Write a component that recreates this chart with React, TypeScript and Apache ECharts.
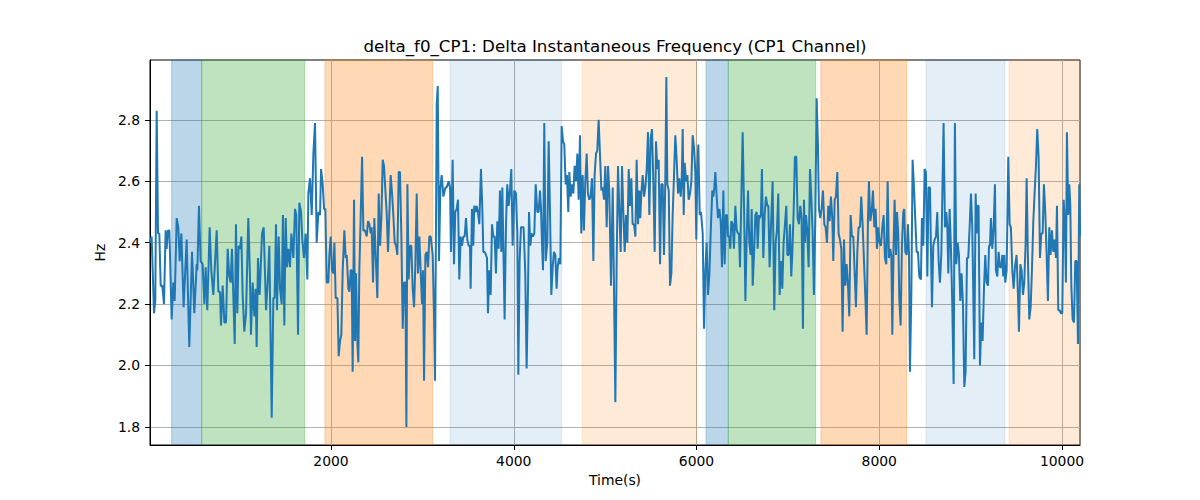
import { useEffect, useRef } from "react"
import * as echarts from "echarts"

// axis extents and tick labels
const timeRange = [19, 10197]
const hzRange = [1.741, 2.995]
const xTicks = [2000, 4000, 6000, 8000, 10000]
const yTicks = [1.8, 2.0, 2.2, 2.4, 2.6, 2.8]

// shaded phases (seconds)
const regionStarts = [256, 585, 1934, 3302, 4750, 6104, 6348, 7362, 8512, 9420]
const regionEnds = [585, 1713, 3113, 4525, 6002, 6348, 7304, 8300, 9376, 10197]
const regionKinds = ["A", "B", "C", "D", "E", "A", "B", "C", "D", "E"]

// [time(s), delta f0 (Hz)]
const samples: [number, number][] = [
  [19, 2.40], [37, 2.42], [63, 2.17], [77, 2.21], [92, 2.83], [107, 2.43], [121, 2.43], [136, 2.26], [154, 2.26], [172, 2.20],
  [190, 2.44], [201, 2.38], [216, 2.44], [231, 2.44], [256, 2.15], [274, 2.27], [289, 2.21], [311, 2.48], [329, 2.45], [344, 2.34],
  [362, 2.43], [387, 2.19], [420, 2.41], [449, 2.06], [479, 2.37], [504, 2.17], [530, 2.33], [537, 2.31], [555, 2.52], [573, 2.34],
  [595, 2.33], [614, 2.20], [628, 2.32], [646, 2.18], [672, 2.45], [690, 2.31], [712, 2.23], [749, 2.44], [767, 2.24], [785, 2.24],
  [796, 2.13], [814, 2.26], [833, 2.14], [851, 2.14], [869, 2.38], [887, 2.29], [902, 2.27], [916, 2.38], [946, 2.07], [960, 2.46],
  [975, 2.17], [989, 2.39], [1004, 2.38], [1019, 2.42], [1033, 2.23], [1051, 2.11], [1070, 2.17], [1095, 2.48], [1113, 2.29], [1124, 2.10],
  [1143, 2.27], [1161, 2.16], [1175, 2.25], [1186, 2.06], [1201, 2.35], [1219, 2.23], [1245, 2.43], [1263, 2.45], [1289, 2.18], [1307, 2.27],
  [1325, 2.39], [1351, 1.83], [1369, 2.22], [1383, 2.22], [1398, 2.46], [1409, 2.18], [1427, 2.42], [1442, 2.25], [1460, 2.20], [1474, 2.49],
  [1489, 2.13], [1504, 2.48], [1518, 2.32], [1533, 2.38], [1551, 2.32], [1566, 2.43], [1588, 2.35], [1606, 2.51], [1620, 2.49], [1639, 2.10],
  [1653, 2.53], [1672, 2.50], [1686, 2.41], [1704, 2.35], [1722, 2.43], [1741, 2.28], [1752, 2.56], [1770, 2.61],
  [1789, 2.49], [1807, 2.69], [1825, 2.79], [1843, 2.40], [1862, 2.50], [1880, 2.49], [1891, 2.64], [1909, 2.59], [1924, 2.51], [1938, 2.51],
  [1953, 2.27], [1971, 2.27], [1982, 2.36], [1997, 2.42], [2011, 2.31], [2026, 2.30], [2037, 2.40], [2051, 2.22], [2070, 2.22], [2084, 2.03],
  [2099, 2.08], [2113, 2.10], [2128, 2.31], [2146, 2.44], [2161, 2.35], [2172, 2.36], [2190, 2.25], [2201, 2.24], [2215, 2.31], [2226, 2.31],
  [2237, 1.98], [2252, 2.54], [2263, 2.08], [2274, 2.30], [2288, 2.08], [2299, 2.01], [2310, 2.31], [2325, 2.49], [2340, 2.68], [2354, 2.44],
  [2372, 2.44], [2391, 2.42], [2405, 2.47], [2420, 2.46], [2434, 2.43], [2445, 2.45], [2460, 2.27], [2474, 2.48], [2489, 2.36], [2507, 2.22],
  [2522, 2.56], [2537, 2.39], [2551, 2.48], [2566, 2.67], [2580, 2.65], [2595, 2.57], [2609, 2.50], [2624, 2.37], [2639, 2.50], [2653, 2.62],
  [2668, 2.56], [2682, 2.49], [2697, 2.40], [2712, 2.39], [2726, 2.36], [2741, 2.63], [2755, 2.63], [2770, 2.42], [2785, 2.12], [2799, 2.27],
  [2814, 2.27], [2825, 1.80], [2836, 2.59], [2850, 2.28], [2865, 2.39], [2879, 2.39], [2894, 2.25], [2909, 2.19], [2923, 2.33], [2938, 2.56],
  [2952, 2.30], [2967, 2.42], [2982, 2.30], [2996, 2.20], [3007, 2.31], [3018, 1.95], [3033, 2.36], [3047, 2.37], [3062, 2.32], [3076, 2.42],
  [3091, 2.42], [3113, 2.36], [3127, 2.17], [3138, 1.95], [3157, 2.85], [3168, 2.91], [3182, 2.34], [3197, 2.58], [3211, 2.62], [3230, 2.55],
  [3252, 2.58], [3266, 2.58], [3288, 2.60], [3303, 2.58],
  [3313, 2.37], [3331, 2.67], [3346, 2.33], [3360, 2.50], [3375, 2.51], [3390, 2.54], [3404, 2.28], [3419, 2.42], [3433, 2.39], [3448, 2.42],
  [3463, 2.42], [3477, 2.48], [3492, 2.41], [3506, 2.39], [3521, 2.39], [3528, 2.25], [3543, 2.51], [3557, 2.39], [3568, 2.52], [3583, 2.50],
  [3594, 2.52], [3608, 2.50], [3623, 2.46], [3641, 2.64], [3656, 2.51], [3667, 2.37], [3681, 2.37], [3696, 2.36], [3707, 2.35], [3718, 2.17],
  [3732, 2.31], [3747, 2.23], [3762, 2.46], [3776, 2.42], [3791, 2.42], [3805, 2.30], [3820, 2.47], [3835, 2.38], [3849, 2.57], [3864, 2.37],
  [3875, 2.58], [3886, 2.39], [3900, 2.15], [3915, 2.46], [3929, 2.59], [3944, 2.52], [3959, 2.57], [3973, 2.64], [3988, 2.39], [4006, 2.57],
  [4024, 2.56], [4039, 2.43], [4050, 1.97], [4064, 2.34], [4079, 2.45], [4094, 2.45], [4108, 2.45], [4126, 2.30], [4141, 1.99], [4156, 2.25],
  [4167, 2.50], [4181, 2.39], [4196, 2.43], [4210, 2.42], [4225, 2.43], [4240, 2.59], [4258, 2.50], [4272, 2.50], [4287, 2.57], [4298, 2.51],
  [4309, 2.40], [4320, 2.31], [4334, 2.79], [4349, 2.34], [4367, 2.40], [4382, 2.73], [4396, 2.51], [4411, 2.23], [4426, 2.32], [4440, 2.37],
  [4455, 2.36], [4469, 2.25], [4480, 2.32], [4495, 2.35], [4510, 2.33], [4524, 2.78], [4539, 2.73], [4553, 2.72], [4568, 2.59], [4582, 2.62],
  [4597, 2.50], [4608, 2.63], [4623, 2.55], [4637, 2.59], [4652, 2.56], [4666, 2.65], [4681, 2.60], [4696, 2.69], [4710, 2.54], [4725, 2.75],
  [4739, 2.43], [4754, 2.62], [4768, 2.44], [4783, 2.60], [4798, 2.69], [4812, 2.56], [4827, 2.54], [4841, 2.55], [4856, 2.61], [4871, 2.34],
  [4885, 2.62], [4900, 2.69], [4914, 2.70], [4929, 2.80],
  [4959, 2.57], [4973, 2.58], [4988, 2.54], [5002, 2.65], [5017, 2.45], [5032, 2.65], [5046, 2.56], [5064, 2.26], [5083, 2.58], [5097, 2.25],
  [5112, 1.88], [5126, 2.34], [5141, 2.65], [5156, 2.50], [5170, 2.37], [5185, 2.65], [5199, 2.50], [5214, 2.37], [5229, 2.49], [5243, 2.40],
  [5258, 2.64], [5272, 2.52], [5287, 2.61], [5301, 2.46], [5316, 2.46], [5331, 2.42], [5345, 2.67], [5360, 2.46], [5374, 2.57], [5385, 2.48],
  [5396, 2.56], [5411, 2.62], [5426, 2.55], [5440, 2.58], [5455, 2.64], [5469, 2.76], [5484, 2.49], [5498, 2.74], [5513, 2.77], [5528, 2.59],
  [5542, 2.37], [5557, 2.73], [5571, 2.64], [5586, 2.67], [5601, 2.33], [5615, 2.59], [5630, 2.59], [5644, 2.36], [5659, 2.61], [5670, 2.94],
  [5681, 2.59], [5696, 2.57], [5710, 2.26], [5725, 2.30], [5739, 2.49], [5754, 2.62], [5768, 2.75], [5783, 2.67], [5798, 2.56], [5812, 2.61],
  [5827, 2.55], [5838, 2.60], [5849, 2.77], [5860, 2.49], [5871, 2.66], [5885, 2.60], [5900, 2.62], [5914, 2.54], [5929, 2.56], [5944, 2.60],
  [5958, 2.75], [5973, 2.71], [5987, 2.63], [5998, 2.41], [6009, 2.64], [6020, 2.72], [6035, 2.49], [6049, 2.50], [6068, 2.43], [6082, 2.12],
  [6097, 2.31], [6111, 2.40], [6126, 2.23], [6141, 2.30], [6155, 2.43], [6173, 2.57], [6184, 2.55], [6195, 2.58], [6206, 2.63], [6221, 2.55],
  [6235, 2.48], [6250, 2.51], [6265, 2.47], [6279, 2.32], [6294, 2.57], [6308, 2.33], [6323, 2.49], [6334, 2.49], [6345, 2.42], [6359, 2.42],
  [6370, 2.38], [6381, 2.47], [6396, 2.46], [6410, 2.38], [6425, 2.52], [6440, 2.44], [6454, 2.43], [6465, 2.43], [6476, 2.32], [6491, 2.55],
  [6505, 2.76], [6520, 2.52], [6535, 2.21], [6549, 2.42], [6564, 2.57], [6578, 2.40], [6593, 2.36], [6604, 2.51], [6615, 2.26], [6629, 2.36],
  [6644, 2.49], [6659, 2.50], [6669, 2.38], [6684, 2.49],
  [6694, 2.48], [6705, 2.49], [6716, 2.64], [6731, 2.35], [6746, 2.49], [6760, 2.55], [6775, 2.52], [6786, 2.52], [6800, 2.32], [6815, 2.45],
  [6833, 2.60], [6851, 2.18], [6866, 2.40], [6880, 2.44], [6895, 2.56], [6910, 2.23], [6924, 2.34], [6939, 2.25], [6953, 2.40], [6968, 2.46],
  [6983, 2.52], [6994, 2.36], [7008, 2.36], [7023, 2.46], [7037, 2.29], [7048, 2.36], [7063, 2.50], [7077, 2.68], [7092, 2.68], [7107, 2.48],
  [7121, 2.46], [7136, 2.52], [7150, 2.48], [7165, 2.12], [7176, 2.54], [7187, 2.40], [7198, 2.49], [7212, 2.44], [7227, 2.32], [7242, 2.64],
  [7256, 2.55], [7271, 2.43], [7285, 2.23], [7300, 2.48], [7315, 2.87], [7329, 2.72], [7340, 2.51], [7355, 2.48], [7369, 2.51], [7384, 2.57],
  [7399, 2.46], [7413, 2.45], [7428, 2.40], [7442, 2.52], [7457, 2.47], [7471, 2.55], [7486, 2.48], [7497, 2.34], [7512, 2.54], [7526, 2.55],
  [7541, 2.63], [7555, 2.43], [7570, 2.41], [7585, 2.38], [7599, 2.11], [7614, 2.41], [7628, 2.26], [7643, 2.33], [7658, 2.26], [7672, 2.16],
  [7687, 2.49], [7701, 2.42], [7716, 2.42], [7730, 2.31], [7745, 2.19], [7760, 2.37], [7774, 2.45], [7789, 2.45], [7803, 2.55], [7818, 2.46],
  [7833, 2.34], [7847, 2.23], [7862, 2.10], [7876, 2.47], [7887, 2.60], [7902, 2.47], [7917, 2.50], [7931, 2.57], [7946, 2.45], [7960, 2.51],
  [7975, 2.38], [7989, 2.45], [8004, 2.40], [8019, 2.39], [8033, 2.45], [8048, 2.49], [8062, 2.35], [8077, 2.33], [8092, 2.60], [8106, 2.35],
  [8121, 2.38], [8132, 2.36], [8143, 2.10], [8157, 2.39], [8168, 2.54], [8183, 2.36], [8194, 2.50], [8208, 2.43], [8219, 2.22], [8234, 2.13],
  [8248, 2.39], [8263, 2.50], [8274, 2.51], [8285, 2.37], [8300, 2.36], [8314, 2.46], [8325, 2.37], [8336, 1.98], [8351, 2.23], [8365, 2.67],
  [8380, 2.58], [8394, 2.48], [8409, 2.37], [8424, 2.37], [8438, 2.29],
  [8456, 2.28], [8467, 2.48], [8482, 2.39], [8497, 2.64], [8511, 2.63], [8526, 2.29], [8540, 2.58], [8555, 2.58], [8566, 2.38], [8577, 2.19],
  [8591, 2.39], [8606, 2.41], [8621, 2.42], [8635, 2.50], [8650, 2.34], [8664, 2.27], [8679, 2.36], [8693, 2.60], [8704, 2.79], [8719, 2.45],
  [8734, 2.50], [8745, 2.45], [8756, 2.30], [8770, 2.51], [8785, 2.38], [8799, 2.20], [8814, 1.94], [8828, 2.79], [8843, 2.33], [8858, 2.40],
  [8872, 2.36], [8887, 2.21], [8901, 2.30], [8916, 2.20], [8931, 1.93], [8945, 1.98], [8960, 2.35], [8974, 2.35], [8989, 2.45], [9004, 2.56],
  [9018, 2.45], [9040, 2.02], [9055, 2.56], [9066, 2.43], [9077, 2.52], [9087, 2.52], [9102, 2.00], [9117, 2.14], [9131, 2.08], [9146, 2.25],
  [9160, 2.36], [9175, 2.27], [9190, 2.26], [9201, 2.39], [9212, 2.39], [9222, 2.48], [9237, 2.38], [9252, 2.45], [9266, 2.59], [9277, 2.31],
  [9292, 2.29], [9306, 2.37], [9321, 2.32], [9336, 2.32], [9347, 2.36], [9357, 2.29], [9368, 2.36], [9379, 2.27], [9394, 2.31], [9412, 2.68],
  [9427, 2.46], [9441, 2.45], [9456, 2.31], [9471, 2.25], [9485, 2.32], [9503, 2.36], [9518, 2.23], [9529, 2.11], [9544, 2.33], [9558, 2.31],
  [9573, 2.23], [9587, 2.27], [9602, 2.40], [9613, 2.61], [9627, 2.35], [9642, 2.15], [9657, 2.19], [9671, 2.31], [9686, 2.47], [9700, 2.56],
  [9715, 2.65], [9729, 2.77], [9744, 2.68], [9759, 2.35], [9773, 2.43], [9788, 2.43], [9802, 2.59], [9817, 2.50], [9832, 2.36], [9846, 2.21],
  [9861, 2.45], [9875, 2.36], [9890, 2.44], [9905, 2.37], [9919, 2.41], [9934, 2.35], [9945, 2.52], [9959, 2.18], [9974, 2.18], [9989, 2.17],
  [10003, 2.17], [10018, 2.54], [10032, 2.46], [10043, 2.27], [10054, 2.76], [10069, 2.49], [10080, 2.59], [10091, 2.52], [10102, 2.26], [10116, 2.15],
  [10131, 2.14], [10145, 2.34], [10160, 2.34], [10175, 2.07], [10189, 2.59], [10197, 2.42],
]

const kindColors: Record<string, string> = {
  A: "rgba(31,119,180,0.3)",
  B: "rgba(44,160,44,0.3)",
  C: "rgba(255,127,14,0.3)",
  D: "rgba(31,119,180,0.12)",
  E: "rgba(255,127,14,0.16)",
}

const FONT = "DejaVu Sans"

export default function App() {
  const chartRef = useRef<HTMLDivElement>(null)

  useEffect(() => {
    if (!chartRef.current) return
    const chart = echarts.init(chartRef.current, null, { renderer: "svg" })

    const areas = regionStarts.map((start, i) => [
      {
        xAxis: start,
        itemStyle: {
          color: kindColors[regionKinds[i]],
          borderColor: kindColors[regionKinds[i]],
          borderWidth: 1,
        },
      },
      { xAxis: regionEnds[i] },
    ])

    const axisText = { color: "#000", fontFamily: FONT, fontSize: 13.9 }

    chart.setOption({
      animation: false,
      backgroundColor: "#fff",
      grid: {
        left: 150,
        right: 120,
        top: 60,
        bottom: 55,
        show: true,
        borderColor: "#000",
        borderWidth: 1,
        backgroundColor: "transparent",
        z: 1,
      },
      graphic: [
        {
          type: "text",
          x: 615,
          y: 46,
          style: {
            text: "delta_f0_CP1: Delta Instantaneous Frequency (CP1 Channel)",
            fill: "#000",
            fontFamily: FONT,
            fontSize: 16.7,
            textAlign: "center",
            textVerticalAlign: "middle",
            verticalAlign: "middle",
          },
        },
      ],
      xAxis: {
        type: "value",
        min: timeRange[0],
        max: timeRange[1],
        splitNumber: 5,
        z: 1,
        name: "Time(s)",
        nameLocation: "middle",
        nameGap: 28,
        nameTextStyle: axisText,
        axisLine: { show: true, onZero: false, lineStyle: { color: "#000", width: 1 } },
        axisTick: { show: true, length: 5, lineStyle: { color: "#000", width: 1 }, customValues: xTicks },
        axisLabel: { ...axisText, margin: 9, customValues: xTicks, formatter: (v: number) => String(v) },
        splitLine: { show: true, lineStyle: { color: "#b0b0b0", width: 1 } },
      },
      yAxis: {
        type: "value",
        min: hzRange[0],
        max: hzRange[1],
        splitNumber: 6,
        z: 1,
        name: "Hz",
        nameLocation: "middle",
        nameGap: 37,
        nameTextStyle: axisText,
        axisLine: { show: true, onZero: false, lineStyle: { color: "#000", width: 1 } },
        axisTick: { show: true, length: 5, lineStyle: { color: "#000", width: 1 }, customValues: yTicks },
        axisLabel: { ...axisText, margin: 10, customValues: yTicks, formatter: (v: number) => v.toFixed(1) },
        splitLine: { show: true, lineStyle: { color: "#b0b0b0", width: 1 } },
      },
      series: [
        {
          type: "line",
          name: "phases",
          data: [],
          z: 0,
          silent: true,
          markArea: { silent: true, data: areas },
        },
        {
          type: "line",
          name: "delta_f0_CP1",
          data: samples,
          symbol: "none",
          showSymbol: false,
          z: 3,
          clip: true,
          lineStyle: { color: "#1f77b4", width: 2 },
        },
      ],
    })

    return () => chart.dispose()
  }, [])

  return (
    <div
      ref={chartRef}
      style={{ position: "fixed", left: 0, top: 0, width: 1200, height: 500, background: "#fff" }}
    />
  )
}
